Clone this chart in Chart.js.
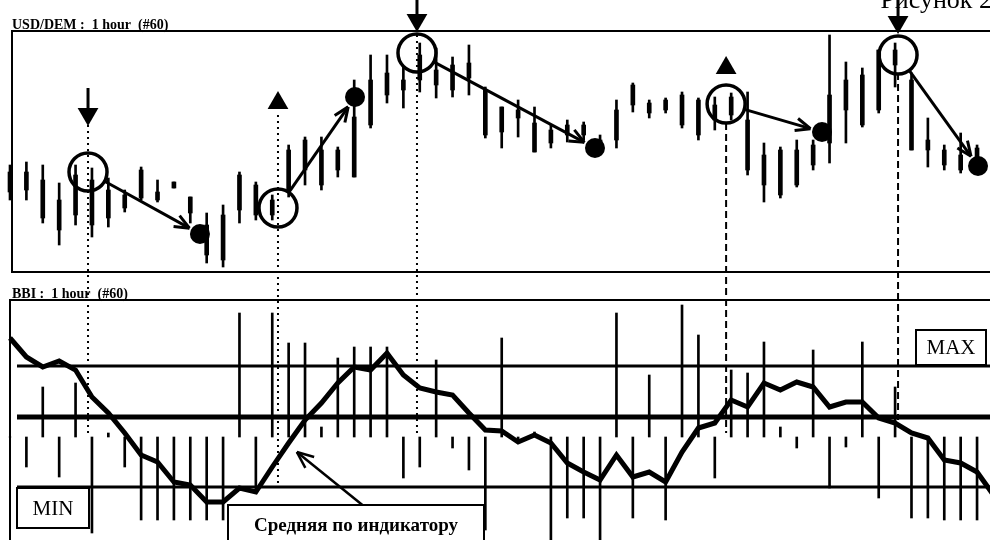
<!DOCTYPE html>
<html>
<head>
<meta charset="utf-8">
<script src="https://cdn.jsdelivr.net/npm/chart.js@4.4.1/dist/chart.umd.min.js"></script>
<style>
  html, body { margin: 0; padding: 0; background: #fff; }
  #wrap { position: relative; width: 990px; height: 540px; }
</style>
</head>
<body>
<div id="wrap"><canvas id="chart-canvas" width="990" height="540"></canvas></div>
<script>
// hourly bars, USD/DEM
const bars = Array.from({ length: 61 }, (_, i) => i);

const highs = [
  1.6907, 1.6910, 1.6907, 1.6889, 1.6907, 1.6904, 1.6894, 1.6882, 1.6905, 1.6892,
  1.6890, 1.6875, 1.6859, 1.6867, 1.6900, 1.6890, 1.6877, 1.6927, 1.6935, 1.6935,
  1.6925, 1.6992, 1.7017, 1.7017, 1.7005, 1.7029, 1.7024, 1.7015, 1.7027, 1.6985,
  1.6965, 1.6972, 1.6965, 1.6947, 1.6952, 1.6950, 1.6937, 1.6972, 1.6989, 1.6972,
  1.6974, 1.6980, 1.6974, 1.6975, 1.6979, 1.6980, 1.6929, 1.6925, 1.6932, 1.6932,
  1.7037, 1.7010, 1.7004, 1.7022, 1.7029, 1.6999, 1.6954, 1.6927, 1.6939, 1.6927
];
const lows = [
  1.6872, 1.6872, 1.6849, 1.6827, 1.6847, 1.6835, 1.6845, 1.6860, 1.6872, 1.6870,
  1.6884, 1.6849, 1.6809, 1.6805, 1.6849, 1.6852, 1.6852, 1.6875, 1.6887, 1.6882,
  1.6895, 1.6895, 1.6944, 1.6969, 1.6964, 1.6980, 1.6974, 1.6975, 1.6977, 1.6934,
  1.6924, 1.6935, 1.6920, 1.6924, 1.6930, 1.6932, 1.6917, 1.6924, 1.6960, 1.6954,
  1.6959, 1.6944, 1.6932, 1.6942, 1.6952, 1.6897, 1.6870, 1.6874, 1.6885, 1.6902,
  1.6909, 1.6929, 1.6945, 1.6959, 1.6985, 1.6922, 1.6905, 1.6902, 1.6899, 1.6909
];
const bodyTops = [
  1.6900, 1.6900, 1.6892, 1.6872, 1.6897, 1.6892, 1.6882, 1.6877, 1.6902, 1.6880,
  1.6890, 1.6875, 1.6847, 1.6857, 1.6897, 1.6887, 1.6872, 1.6922, 1.6932, 1.6922,
  1.6922, 1.6955, 1.6992, 1.6999, 1.6992, 1.7017, 1.7002, 1.7007, 1.7009, 1.6982,
  1.6965, 1.6962, 1.6949, 1.6942, 1.6947, 1.6947, 1.6932, 1.6962, 1.6987, 1.6969,
  1.6972, 1.6977, 1.6972, 1.6967, 1.6975, 1.6952, 1.6917, 1.6922, 1.6922, 1.6927,
  1.6977, 1.6992, 1.6997, 1.7022, 1.7022, 1.6992, 1.6932, 1.6922, 1.6917, 1.6924
];
const bodyBottoms = [
  1.6880, 1.6882, 1.6854, 1.6842, 1.6857, 1.6847, 1.6854, 1.6864, 1.6874, 1.6872,
  1.6884, 1.6859, 1.6817, 1.6812, 1.6862, 1.6857, 1.6857, 1.6882, 1.6902, 1.6887,
  1.6902, 1.6895, 1.6947, 1.6977, 1.6982, 1.6992, 1.6987, 1.6982, 1.6994, 1.6937,
  1.6940, 1.6954, 1.6920, 1.6929, 1.6937, 1.6937, 1.6922, 1.6932, 1.6967, 1.6959,
  1.6962, 1.6947, 1.6937, 1.6952, 1.6957, 1.6902, 1.6887, 1.6877, 1.6887, 1.6907,
  1.6929, 1.6962, 1.6947, 1.6962, 1.7007, 1.6922, 1.6922, 1.6907, 1.6902, 1.6912
];

// BBI indicator and its histogram
const bbi = [
  7.9, 6.0, 5.0, 5.6, 4.7, 2.0, 0.4, -1.6, -3.8, -4.5,
  -6.5, -6.8, -8.5, -8.5, -7.1, -7.5, -5.0, -2.6, -0.3, 1.4,
  3.4, 5.0, 4.7, 6.4, 4.2, 2.9, 2.5, 2.2, 0.4, -1.3,
  -1.4, -2.5, -1.8, -2.6, -4.6, -5.5, -6.3, -3.8, -6.0, -5.5,
  -6.5, -3.5, -1.1, -0.6, 1.7, 1.0, 3.4, 2.7, 3.5, 3.0,
  1.0, 1.5, 1.5, -0.1, -0.6, -1.6, -2.1, -4.3, -4.6, -5.5, -7.8
];
const bbiHist = [
  0, -3.0, 5.0, -4.0, 5.4, -9.6, 0.4, -3.0, -8.3, -8.3,
  -8.3, -8.3, -8.3, -8.3, 12.4, -5.6, 12.4, 9.4, 9.4, 1.0,
  7.9, 9.0, 9.0, 9.0, -4.1, -3.0, 7.7, -1.1, -3.3, -9.3,
  9.9, -0.5, 0.5, -10.3, -8.1, -8.1, -10.3, 12.4, -8.1, 6.2,
  -8.3, 13.2, 10.2, -4.1, 6.7, 6.4, 9.5, 1.0, -1.1, 8.7,
  -5.1, -1.0, 9.5, -6.1, 5.0, -8.1, -8.1, -8.3, -8.3, -8.3
];
const bbiLevels = [5.1, 0, -7.0];   // MAX, middle, MIN

// signals: where the circle is, where the move ended, direction
const signalIdx = [4.76, 16.35, 24.83, 43.69, 54.18];
const signalPrice = [1.6900, 1.6864, 1.7019, 1.6968, 1.7017];
const signalDir = ['down', 'up', 'down', 'up', 'down'];
const markPrice = [1.6958, 1.6969, 1.7052, 1.7004, 1.7050];
const targetIdx = [11.59, 21.05, 35.69, 49.54, 59.06];
const targetPrice = [1.6838, 1.6975, 1.6924, 1.6940, 1.6906];
const guideTop = [1.6947, 1.6957, 1.7037, 1.6949, 1.6999];
const guideEnd = [-2.0, -6.8, -1.8, -1.6, -0.3];

const toPts = (xs, ys) => xs.map((x, i) => ({ x, y: ys[i] }));

const panelsPlugin = {
  id: 'panels',
  beforeDatasetsDraw(chart) {
    const ctx = chart.ctx;
    const yB = chart.scales.yBbi;
    ctx.save();
    ctx.strokeStyle = '#000';
    ctx.lineWidth = 2;
    ctx.beginPath();
    // price frame
    ctx.moveTo(990, 31); ctx.lineTo(12, 31); ctx.lineTo(12, 272); ctx.lineTo(990, 272);
    // bbi frame
    ctx.moveTo(990, 300); ctx.lineTo(10, 300); ctx.lineTo(10, 540);
    ctx.stroke();
    bbiLevels.forEach((v, i) => {
      const y = yB.getPixelForValue(v);
      ctx.lineWidth = i === 1 ? 5 : 3;
      ctx.beginPath(); ctx.moveTo(17, y); ctx.lineTo(990, y); ctx.stroke();
    });
    ctx.restore();
  },
  afterDatasetsDraw(chart) {
    const ctx = chart.ctx;
    const { x: xs, yPrice: yP, yBbi: yB } = chart.scales;
    ctx.save();
    ctx.strokeStyle = '#000';
    ctx.fillStyle = '#000';

    // vertical guides from signal down into the indicator
    signalIdx.forEach((s, i) => {
      const px = xs.getPixelForValue(s);
      ctx.lineWidth = 2;
      ctx.setLineDash(i >= 3 ? [7, 4] : [2, 4]);
      ctx.beginPath();
      ctx.moveTo(px, yP.getPixelForValue(guideTop[i]));
      ctx.lineTo(px, yB.getPixelForValue(guideEnd[i]));
      ctx.stroke();
    });
    ctx.setLineDash([]);

    // stems on the down marks
    signalIdx.forEach((s, i) => {
      if (signalDir[i] !== 'down') return;
      const px = xs.getPixelForValue(s);
      const py = yP.getPixelForValue(markPrice[i]);
      ctx.lineWidth = 3;
      ctx.beginPath(); ctx.moveTo(px, py - 26); ctx.lineTo(px, py - 6); ctx.stroke();
    });

    // arrows from circle to ball
    const arrow = (x0, y0, x1, y1, head) => {
      const a = Math.atan2(y1 - y0, x1 - x0);
      ctx.beginPath(); ctx.moveTo(x0, y0); ctx.lineTo(x1, y1); ctx.stroke();
      [-0.4, 0.4].forEach(d => {
        ctx.beginPath();
        ctx.moveTo(x1, y1);
        ctx.lineTo(x1 - head * Math.cos(a + d), y1 - head * Math.sin(a + d));
        ctx.stroke();
      });
    };
    ctx.lineWidth = 3;
    signalIdx.forEach((s, i) => {
      const x0 = xs.getPixelForValue(s), y0 = yP.getPixelForValue(signalPrice[i]);
      const x1 = xs.getPixelForValue(targetIdx[i]), y1 = yP.getPixelForValue(targetPrice[i]);
      const len = Math.hypot(x1 - x0, y1 - y0);
      const ux = (x1 - x0) / len, uy = (y1 - y0) / len;
      arrow(x0 + ux * 20, y0 + uy * 20, x1 - ux * 12, y1 - uy * 12, 16);
    });

    // text boxes
    const box = (x, y, w, h, text, font) => {
      ctx.fillStyle = '#fff';
      ctx.fillRect(x, y, w, h);
      ctx.lineWidth = 2;
      ctx.strokeRect(x, y, w, h);
      ctx.fillStyle = '#000';
      ctx.font = font;
      ctx.textAlign = 'center';
      ctx.textBaseline = 'middle';
      ctx.fillText(text, x + w / 2, y + h / 2 + 1);
    };
    box(916, 330, 70, 35, 'MAX', '21px "Liberation Serif"');
    box(17, 488, 72, 40, 'MIN', '21px "Liberation Serif"');
    box(228, 505, 256, 40, 'Средняя по индикатору', 'bold 19px "Liberation Serif"');

    // pointer to the indicator line
    ctx.lineWidth = 2.5;
    arrow(xs.getPixelForValue(21.5), yB.getPixelForValue(-8.8),
          xs.getPixelForValue(17.5), yB.getPixelForValue(-3.5), 18);

    // headers
    ctx.textAlign = 'left';
    ctx.textBaseline = 'alphabetic';
    ctx.font = 'bold 14px "Liberation Serif"';
    ctx.fillText('USD/DEM :  1 hour  (#60)', 12, 29);
    ctx.fillText('BBI :  1 hour  (#60)', 12, 298);
    ctx.textAlign = 'right';
    ctx.font = '26px "Liberation Serif"';
    ctx.fillText('Рисунок 2', 992, 8);
    ctx.restore();
  }
};

const config = {
  type: 'bar',
  data: {
    labels: bars,
    datasets: [
      {
        type: 'line', label: 'BBI', data: bbi, yAxisID: 'yBbi',
        borderColor: '#000', borderWidth: 5, pointRadius: 0, tension: 0, order: 1
      },
      {
        label: 'BBI hist', data: bbiHist, yAxisID: 'yHist', grouped: false,
        backgroundColor: '#000', barThickness: 2, order: 5
      },
      {
        label: 'Range', data: lows.map((l, i) => [l, highs[i]]), yAxisID: 'yPrice', grouped: false,
        backgroundColor: '#000', barThickness: 2, order: 4
      },
      {
        label: 'Body', data: bodyBottoms.map((b, i) => [b, bodyTops[i]]), yAxisID: 'yPrice', grouped: false,
        backgroundColor: '#000', barThickness: 4, order: 3
      },
      {
        type: 'scatter', label: 'Signal', data: toPts(signalIdx, signalPrice), yAxisID: 'yPrice',
        pointRadius: 19, pointBorderWidth: 3.5, pointBorderColor: '#000',
        pointBackgroundColor: 'rgba(0,0,0,0)', clip: false, order: 0
      },
      {
        type: 'scatter', label: 'Target', data: toPts(targetIdx, targetPrice), yAxisID: 'yPrice',
        pointRadius: 10, pointBorderWidth: 0, pointBackgroundColor: '#000', clip: false, order: 0
      },
      {
        type: 'scatter', label: 'Mark', data: toPts(signalIdx, markPrice), yAxisID: 'yPrice',
        pointStyle: 'triangle', pointRadius: 12, pointBorderWidth: 0,
        pointRotation: signalDir.map(d => d === 'down' ? 180 : 0),
        pointBackgroundColor: '#000', clip: false, order: 0
      }
    ]
  },
  options: {
    responsive: false,
    animation: false,
    devicePixelRatio: 1,
    layout: { padding: 0, autoPadding: false },
    plugins: { legend: { display: false }, tooltip: { enabled: false } },
    scales: {
      x: { type: 'linear', min: -0.61, max: 59.79, offset: false, display: false },
      yPrice: { type: 'linear', min: 1.6532, max: 1.7072, display: false },
      yBbi: { type: 'linear', min: -12.3, max: 41.7, display: false },
      yHist: { type: 'linear', min: -10.3, max: 43.7, display: false }
    }
  },
  plugins: [panelsPlugin]
};

new Chart(document.querySelector('#chart-canvas').getContext('2d'), config);
</script>
</body>
</html>
